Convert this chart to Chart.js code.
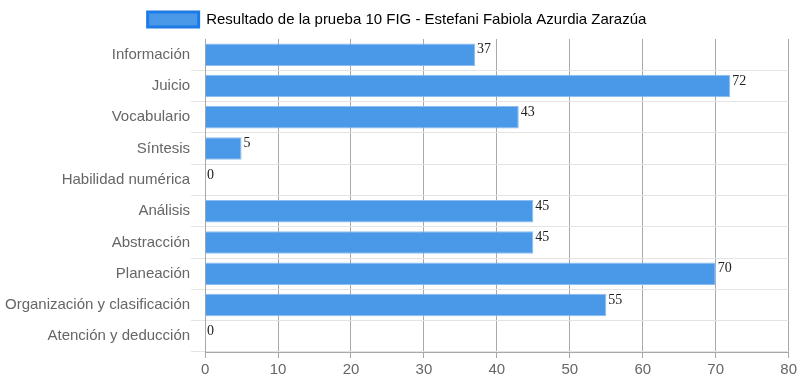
<!DOCTYPE html>
<html>
<head>
<meta charset="utf-8">
<script src="https://cdn.jsdelivr.net/npm/chart.js@4/dist/chart.umd.min.js"></script>
<style>
  html, body { margin: 0; padding: 0; background: #fff; }
  #wrap { width: 800px; height: 386px; }
</style>
</head>
<body>
<div id="wrap"><canvas id="c" width="800" height="386"></canvas></div>
<script>
  const categories = ['Información', 'Juicio', 'Vocabulario', 'Síntesis', 'Habilidad numérica',
    'Análisis', 'Abstracción', 'Planeación', 'Organización y clasificación', 'Atención y deducción'];
  const scores = [37, 72, 43, 5, 0, 45, 45, 70, 55, 0];
  const seriesName = 'Resultado de la prueba 10 FIG - Estefani Fabiola Azurdia Zarazúa';

  // numbers next to each bar end
  const valueLabels = {
    id: 'valueLabels',
    afterDatasetsDraw(chart) {
      const ctx = chart.ctx;
      const meta = chart.getDatasetMeta(0);
      ctx.save();
      ctx.font = '14px "Liberation Serif", serif';
      ctx.fillStyle = '#222';
      ctx.textAlign = 'left';
      ctx.textBaseline = 'middle';
      meta.data.forEach((bar, i) => {
        ctx.fillText(String(scores[i]), bar.x + 2, bar.y - 5);
      });
      ctx.restore();
    }
  };

  // a bit more room under the legend
  const legendGap = {
    id: 'legendGap',
    beforeInit(chart) {
      const fit = chart.legend.fit;
      chart.legend.fit = function () {
        fit.bind(chart.legend)();
        this.height += 2;
      };
    }
  };

  new Chart(document.getElementById('c').getContext('2d'), {
    type: 'bar',
    data: {
      labels: categories,
      datasets: [{
        label: seriesName,
        data: scores,
        backgroundColor: '#4a98e8',
        borderColor: '#8cbdf0',
        borderWidth: 1,
        categoryPercentage: 1,
        barPercentage: 0.72
      }]
    },
    options: {
      indexAxis: 'y',
      responsive: false,
      animation: false,
      layout: { padding: { left: 4, right: 10, top: 2, bottom: 4 } },
      plugins: {
        tooltip: { enabled: false },
        legend: {
          labels: {
            boxWidth: 51,
            boxHeight: 15,
            color: '#666',
            font: { family: 'Liberation Sans, Arial', size: 15 },
            generateLabels: (chart) => [{
              text: seriesName,
              fillStyle: '#4a98e8',
              strokeStyle: '#1c7be6',
              lineWidth: 3,
              datasetIndex: 0
            }]
          }
        }
      },
      scales: {
        x: {
          min: 0,
          max: 80,
          ticks: { stepSize: 10, color: '#666', padding: 3, font: { family: 'Liberation Sans, Arial', size: 15 } },
          grid: { color: '#a8a8a8', tickLength: 6 },
          border: { color: '#a8a8a8' }
        },
        y: {
          ticks: { color: '#666', padding: 1, font: { family: 'Liberation Sans, Arial', size: 15 } },
          grid: { color: (c) => c.index === 0 ? 'rgba(0,0,0,0)' : '#e4e4e4', tickLength: 14 },
          border: { color: '#a8a8a8' }
        }
      }
    },
    plugins: [valueLabels, legendGap]
  });
</script>
</body>
</html>
